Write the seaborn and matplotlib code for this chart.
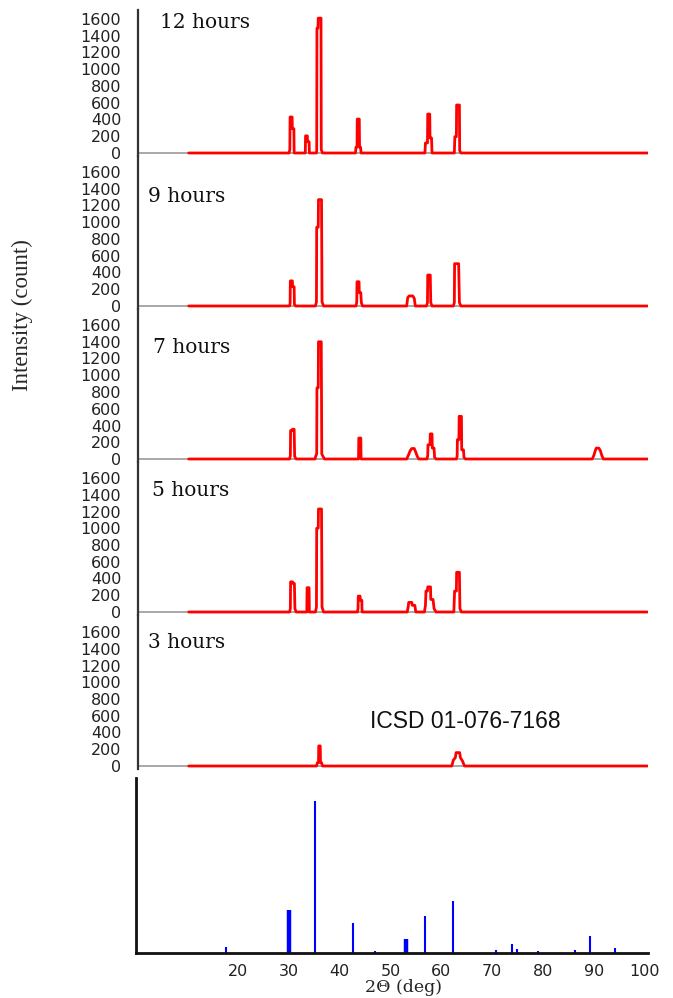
import numpy as np
import pandas as pd
import matplotlib
matplotlib.use("Agg")
import matplotlib.pyplot as plt
import seaborn as sns

# tempos de sintese, de cima para baixo
horas = ["12 hours", "9 hours", "7 hours", "5 hours", "3 hours"]

# difratogramas: 2theta (graus) e intensidade (contagens)
x_12h = [10, 29.8, 29.95, 30.0, 30.4, 30.45, 30.75, 30.8,
         33.0, 33.05, 33.4, 33.45, 33.75, 33.8,
         35.2, 35.25, 35.3, 35.5, 35.55, 36.1, 36.15, 36.4,
         42.9, 43.0, 43.2, 43.25, 43.65, 43.7, 43.9, 44.0,
         56.6, 56.7, 57.1, 57.15, 57.55, 57.6, 57.9, 58.0,
         62.4, 62.5, 62.8, 62.85, 63.4, 63.45, 63.7, 100.5]
y_12h = [0, 0, 40, 430, 430, 290, 290, 0,
         0, 205, 205, 135, 135, 0,
         0, 30, 1490, 1490, 1610, 1610, 40, 0,
         0, 70, 70, 405, 405, 70, 70, 0,
         0, 120, 120, 465, 465, 180, 180, 0,
         0, 195, 195, 573, 573, 30, 0, 0]

x_9h = [10, 29.9, 30.0, 30.05, 30.45, 30.5, 30.8, 30.85, 31.1,
        35.0, 35.2, 35.25, 35.55, 35.6, 36.2, 36.3, 36.6,
        43.0, 43.15, 43.2, 43.6, 43.65, 43.95, 44.05, 44.3,
        53.0, 53.2, 53.5, 54.2, 54.5, 54.7,
        56.9, 57.1, 57.15, 57.65, 57.75, 58.0,
        62.2, 62.4, 62.45, 63.25, 63.4, 63.7, 100.5]
y_9h = [0, 0, 30, 300, 300, 230, 230, 20, 0,
        0, 50, 940, 940, 1270, 1270, 50, 0,
        0, 45, 290, 290, 160, 160, 40, 0,
        0, 100, 120, 120, 90, 0,
        0, 40, 370, 370, 40, 0,
        0, 40, 505, 505, 40, 0, 0]

x_7h = [10, 29.9, 30.05, 30.1, 30.4, 30.45, 30.8, 30.9, 31.2,
        34.9, 35.1, 35.25, 35.3, 35.55, 35.6, 36.15, 36.25, 36.5, 36.8,
        43.5, 43.55, 43.95, 44.0,
        53.0, 53.3, 53.7, 54.0, 54.5, 54.8, 55.1, 55.4,
        57.0, 57.15, 57.2, 57.6, 57.65, 58.0, 58.05, 58.4, 58.5, 58.8,
        62.8, 62.95, 63.0, 63.3, 63.35, 63.8, 63.85, 64.2, 64.3, 64.6,
        89.6, 89.9, 90.2, 90.4, 90.9, 91.2, 91.5, 91.8, 100.5]
y_7h = [0, 0, 40, 340, 340, 355, 355, 30, 0,
        0, 40, 60, 850, 850, 1400, 1400, 60, 30, 0,
        0, 250, 250, 0,
        0, 40, 100, 125, 125, 80, 30, 0,
        0, 40, 170, 170, 300, 300, 130, 130, 20, 0,
        0, 30, 230, 230, 510, 510, 110, 110, 20, 0,
        0, 40, 100, 130, 130, 100, 40, 0, 0]

x_5h = [10, 29.9, 30.05, 30.1, 30.5, 30.55, 30.85, 30.95, 31.2,
        33.3, 33.35, 33.75, 33.8,
        35.0, 35.2, 35.25, 35.55, 35.6, 36.2, 36.3, 36.6,
        43.3, 43.4, 43.45, 43.8, 43.85, 44.15, 44.2,
        53.1, 53.3, 53.4, 54.0, 54.1, 54.6, 54.8,
        56.5, 56.7, 56.8, 57.1, 57.15, 57.7, 57.75, 58.2, 58.4, 58.8,
        62.3, 62.45, 62.8, 62.85, 63.4, 63.5, 63.8, 100.5]
y_5h = [0, 0, 40, 360, 360, 340, 340, 40, 0,
        0, 290, 290, 0,
        0, 60, 1000, 1000, 1230, 1230, 60, 0,
        0, 40, 190, 190, 140, 140, 0,
        0, 60, 115, 115, 80, 80, 0,
        0, 80, 250, 250, 300, 300, 150, 150, 40, 0,
        0, 250, 250, 474, 474, 40, 0, 0]

x_3h = [10, 35.2, 35.4, 35.6, 35.65, 35.95, 36.0, 36.2, 36.4,
        61.9, 62.2, 62.6, 62.75, 63.45, 63.6, 64.0, 64.4, 100.5]
y_3h = [0, 0, 40, 40, 240, 240, 40, 40, 0,
        0, 70, 100, 160, 160, 100, 60, 0, 0]

# padrao ICSD 01-076-7168: posicao das linhas e intensidade relativa (%)
icsd_2theta = [17.6, 30.0, 35.2, 42.7, 47.0, 53.0, 56.7, 62.3,
               70.8, 73.8, 74.8, 78.9, 86.2, 89.3, 94.2]
icsd_rel = [4, 28, 100, 20, 1.5, 9, 24, 34,
            2, 6, 2.5, 1.5, 2, 11, 3]
icsd_largas = [30.0, 53.0]  # linhas mais grossas na figura

curvas = [(x_12h, y_12h), (x_9h, y_9h), (x_7h, y_7h), (x_5h, y_5h), (x_3h, y_3h)]

sns.set_style("white")
plt.rcParams['font.family'] = ['DejaVu Sans']

W, H = 673, 998
fig = plt.figure(figsize=(W / 100, H / 100), dpi=100)


def rect(left, top, right, bottom):
    return [left / W, 1 - bottom / H, (right - left) / W, (bottom - top) / H]


ESQ, DIR = 138, 648
# (topo, base do eixo, base do painel) em pixels
paineis = [(10, 153, 156), (156, 306, 309), (309, 459, 462), (462, 612, 615), (615, 766, 769)]
escala = 134 / 1600  # px por contagem
pos_horas = [(160, 23), (148, 196), (153, 347), (152, 491), (148, 643)]

for i, ((x, y), (topo, base, fundo)) in enumerate(zip(curvas, paineis)):
    ax = fig.add_axes(rect(ESQ, topo, DIR, fundo))
    df = pd.DataFrame({'2theta': x, 'count': y})
    ax.axhline(0, color='#9a9a9a', lw=1.2, zorder=1)
    sns.lineplot(data=df, x='2theta', y='count', ax=ax, color='#ff0000',
                 lw=2.0, sort=False, estimator=None, zorder=2)
    ax.set_xlim(0, 100.6)
    ax.set_ylim(-(fundo - base) / escala, (base - topo) / escala)
    ax.set_yticks(range(0, 1601, 200))
    ax.set_xticks([])
    ax.set_xlabel('')
    ax.set_ylabel('')
    ax.tick_params(axis='y', length=0, pad=12, labelsize=11.5, labelcolor='#222222')
    for s in ['top', 'right', 'bottom']:
        ax.spines[s].set_visible(False)
    ax.spines['left'].set_color('#333333')
    ax.spines['left'].set_linewidth(1.6)
    ax.patch.set_alpha(0)
    px, py = pos_horas[i]
    fig.text(px / W, 1 - py / H, horas[i], family='DejaVu Serif', size=14.5,
             va='center', ha='left', color='#111111')

# padrao de referencia
ax = fig.add_axes(rect(ESQ - 2, 778, DIR, 953))
lws = [3.2 if p in icsd_largas else 1.5 for p in icsd_2theta]
ax.vlines(icsd_2theta, 0, icsd_rel, colors='#0000ff', linewidths=lws)
ax.set_xlim(0, 100.6)
ax.set_ylim(0, 115)
ax.set_yticks([])
ax.set_xticks(range(20, 101, 10))
ax.tick_params(axis='x', direction='out', length=3, width=1.5, pad=5,
               labelsize=11.5, labelcolor='#222222')
for s in ['top', 'right']:
    ax.spines[s].set_visible(False)
for s in ['left', 'bottom']:
    ax.spines[s].set_color('#111111')
    ax.spines[s].set_linewidth(2)
ax.set_xlabel('2Θ (deg)', family='DejaVu Serif', size=12.5)
ax.xaxis.set_label_coords(0.523, -0.2)
ax.xaxis.label.set_va('center')

fig.text(370 / W, 1 - 722 / H, 'ICSD 01-076-7168', family='Liberation Sans',
         size=16.5, va='center', ha='left', color='#111111')
fig.text(22 / W, 1 - 315 / H, 'Intensity (count)', family='Liberation Serif',
         size=16.5, rotation=90, va='center', ha='center')

fig.savefig('out.png', dpi=100)
